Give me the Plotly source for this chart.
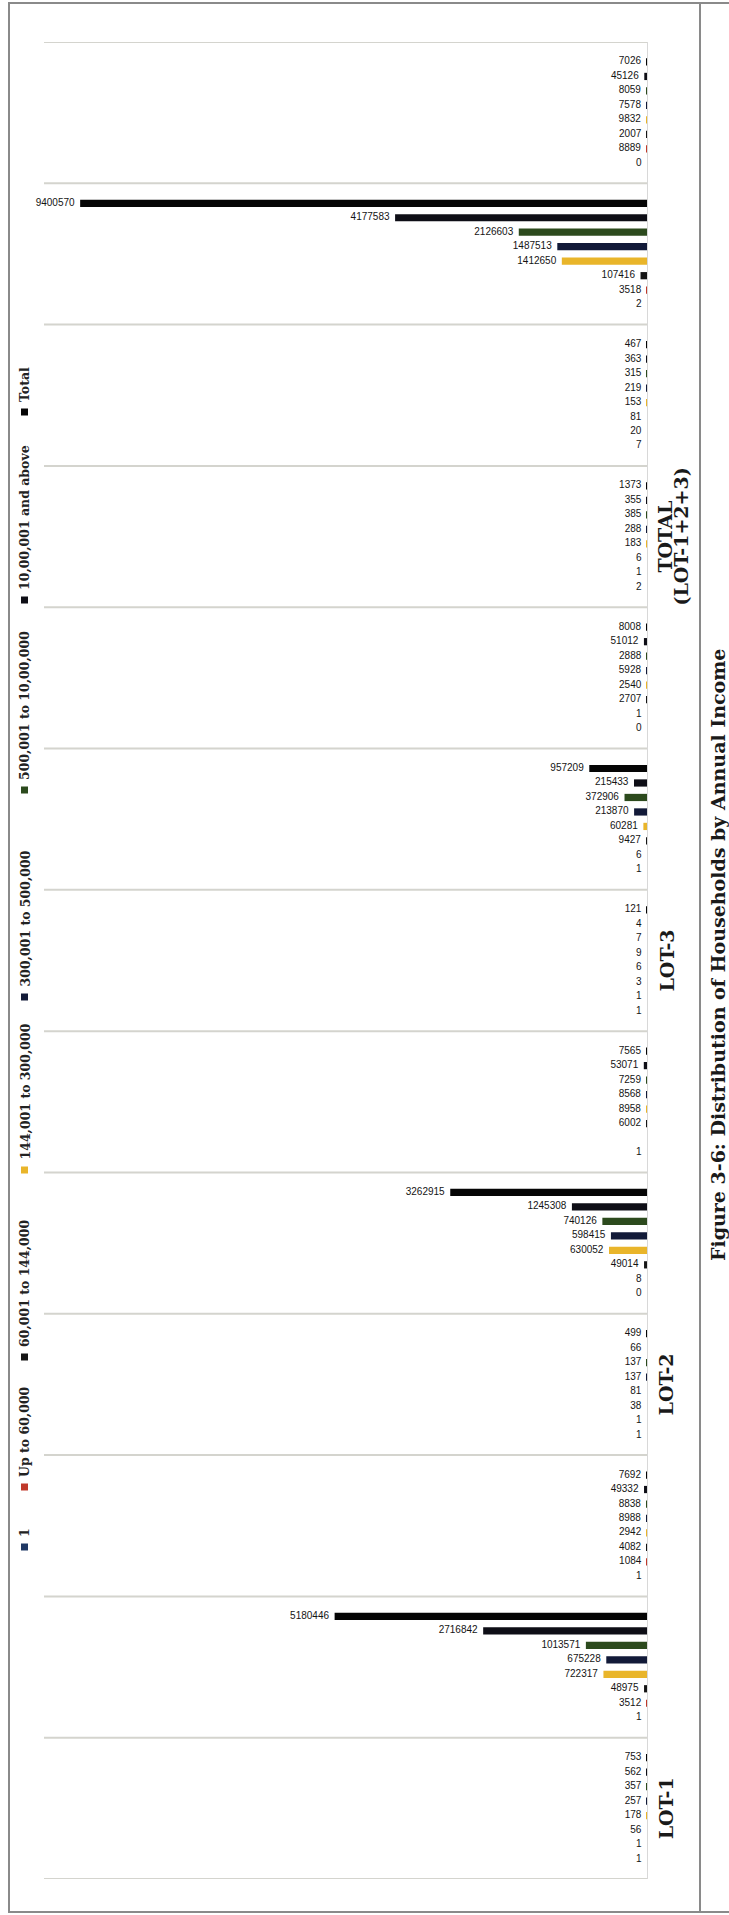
import plotly.graph_objects as go

# Rows of the chart, counted from the bottom band (1) to the top band (13)
row_pos = list(range(1, 14))

# Income classes, in the order the bars sit inside each band (bottom -> top)
series_names = ["1", "Up to 60,000", "60,001 to 144,000", "144,001 to 300,000",
                "300,001 to 500,000", "500,001 to 10,00,000", "10,00,001 and above", "Total"]

s_one = [1, 1, 1, 1, 0, 1, 1, 1, 0, 2, 7, 2, 0]
s_upto_60k = [1, 3512, 1084, 1, 8, None, 1, 6, 1, 1, 20, 3518, 8889]
s_60k_144k = [56, 48975, 4082, 38, 49014, 6002, 3, 9427, 2707, 6, 81, 107416, 2007]
s_144k_300k = [178, 722317, 2942, 81, 630052, 8958, 6, 60281, 2540, 183, 153, 1412650, 9832]
s_300k_500k = [257, 675228, 8988, 137, 598415, 8568, 9, 213870, 5928, 288, 219, 1487513, 7578]
s_500k_10l = [357, 1013571, 8838, 137, 740126, 7259, 7, 372906, 2888, 385, 315, 2126603, 8059]
s_10l_plus = [562, 2716842, 49332, 66, 1245308, 53071, 4, 215433, 51012, 355, 363, 4177583, 45126]
s_total = [753, 5180446, 7692, 499, 3262915, 7565, 121, 957209, 8008, 1373, 467, 9400570, 7026]

series_values = [s_one, s_upto_60k, s_60k_144k, s_144k_300k,
                 s_300k_500k, s_500k_10l, s_10l_plus, s_total]
series_colors = ["#1f3864", "#c0392b", "#151515", "#e9b52a",
                 "#121a38", "#2c4a1d", "#0e0e16", "#050505"]

# Lot labels and the row each one sits on
lot_labels = ["LOT-1", "LOT-2", "LOT-3"]
lot_rows = [1, 4, 7]
total_label = ["TOTAL", "(LOT-1+2+3)"]
total_row = 10

title_text = "Figure 3-6: Distribution of Households by Annual Income"

W, H = 729, 1915
x_max = 10_000_000
BARGAP = 0.18
BARGROUPGAP = 0.5
PAD = "\u00a0\u00a0"


def px(x):
    return x / W


def py(y):
    return (H - y) / H


fig = go.Figure()
n_series = len(series_names)
slot = (1 - BARGAP) / n_series
for i, (name, vals, col) in enumerate(zip(series_names, series_values, series_colors)):
    fig.add_trace(go.Bar(
        orientation="h",
        y=row_pos,
        x=vals,
        name=name,
        marker=dict(color=col, line=dict(width=0)),
        showlegend=False,
    ))
    # value labels just beyond the end of each bar
    offset = -(1 - BARGAP) / 2 + (i + 0.5) * slot
    pts = [(v, r + offset) for v, r in zip(vals, row_pos) if v is not None]
    fig.add_trace(go.Scatter(
        x=[p[0] for p in pts],
        y=[p[1] for p in pts],
        mode="text",
        text=[str(p[0]) + PAD for p in pts],
        textposition="middle left",
        textfont=dict(family="Liberation Sans", size=10, color="#141414"),
        cliponaxis=False,
        showlegend=False,
        hoverinfo="skip",
    ))

shapes = []
# band separators
for b in [r + 0.5 for r in range(0, 14)]:
    shapes.append(dict(type="line", xref="x", yref="y", x0=x_max, x1=0, y0=b, y1=b,
                       line=dict(color="#d4d4ce", width=2), layer="below"))
# page frame and the rule left of the caption
shapes.append(dict(type="rect", xref="paper", yref="paper",
                   x0=px(9), x1=px(740), y0=py(1912), y1=py(3),
                   line=dict(color="#8a8a8a", width=2)))
shapes.append(dict(type="line", xref="paper", yref="paper",
                   x0=px(700), x1=px(700), y0=py(1912), y1=py(3),
                   line=dict(color="#8a8a8a", width=2)))

annotations = []
# rotated legend along the left edge
legend_marker_px = [1547, 1487, 1357, 1170, 997, 790, 600, 412]
for name, col, my in zip(series_names, series_colors, legend_marker_px):
    shapes.append(dict(type="rect", xref="paper", yref="paper",
                       x0=px(21), x1=px(28), y0=py(my + 3.5), y1=py(my - 3.5),
                       fillcolor=col, line=dict(width=0)))
    annotations.append(dict(text="<b>" + name + "</b>", textangle=-90,
                            xref="paper", yref="paper", x=px(24.5), y=py(my - 8),
                            xanchor="center", yanchor="bottom", showarrow=False,
                            font=dict(family="DejaVu Serif", size=12.5, color="#222222")))

for lab, r in zip(lot_labels, lot_rows):
    annotations.append(dict(text="<b>" + lab + "</b>", textangle=-90,
                            xref="paper", yref="y", x=px(666), y=r,
                            xanchor="center", yanchor="middle", showarrow=False,
                            font=dict(family="DejaVu Serif", size=19, color="#1a1a1a")))
for lab, xx in zip(total_label, [665, 681]):
    annotations.append(dict(text="<b>" + lab + "</b>", textangle=-90,
                            xref="paper", yref="y", x=px(xx), y=total_row,
                            xanchor="center", yanchor="middle", showarrow=False,
                            font=dict(family="DejaVu Serif", size=19, color="#1a1a1a")))

annotations.append(dict(text="<b>" + title_text + "</b>", textangle=-90,
                        xref="paper", yref="paper", x=px(718), y=py(955),
                        xanchor="center", yanchor="middle", showarrow=False,
                        font=dict(family="DejaVu Serif", size=19, color="#1a1a1a")))

fig.update_layout(
    width=W, height=H,
    margin=dict(l=0, r=0, t=0, b=0),
    paper_bgcolor="white", plot_bgcolor="white",
    barmode="group", bargap=BARGAP, bargroupgap=BARGROUPGAP,
    xaxis=dict(domain=[px(44), px(647)], range=[x_max, 0], showgrid=False,
               zeroline=False, showticklabels=False, ticks=""),
    yaxis=dict(domain=[py(1879), py(42)], range=[0.5, 13.5], side="right",
               showgrid=False, zeroline=False, showticklabels=False, ticks="",
               showline=True, linecolor="#d8d8d8", linewidth=1),
    shapes=shapes,
    annotations=annotations,
    showlegend=False,
)

fig.write_html("out.html")
